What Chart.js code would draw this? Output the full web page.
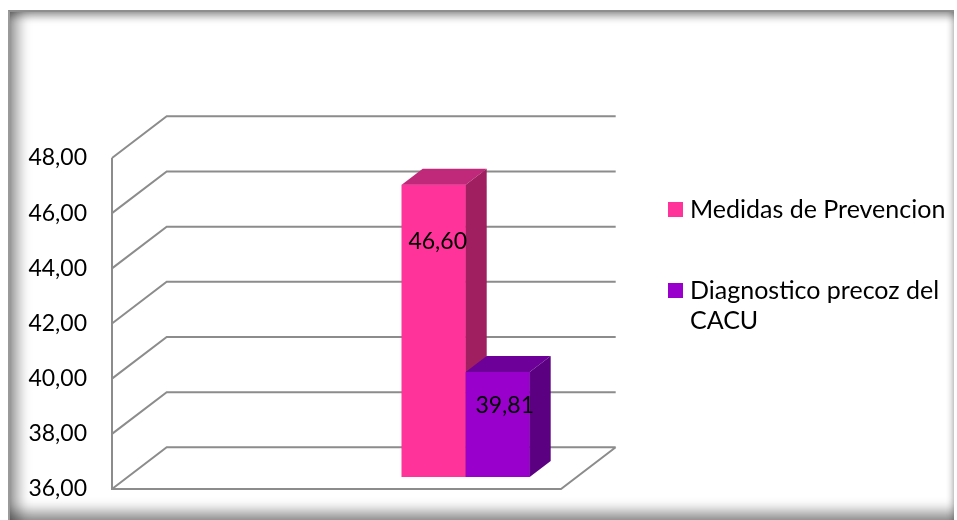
<!DOCTYPE html>
<html>
<head>
<meta charset="utf-8">
<script src="https://cdn.jsdelivr.net/npm/chart.js@4.4.0/dist/chart.umd.min.js"></script>
<style>
  html, body { margin: 0; padding: 0; background: #fff; }
  #wrap { position: relative; width: 957px; height: 520px; overflow: hidden; font-family: Lato, "Open Sans", sans-serif; }
  #frame {
    position: absolute; left: 8px; top: 10px; width: 946px; height: 512px; box-sizing: border-box;
    border-top: 2px solid #8e8e8e; border-left: 2px solid #9a9a9a;
    box-shadow:
      inset 16px 0 14px -8px rgba(0,0,0,0.40),
      inset 0 9px 8px -5px rgba(0,0,0,0.40),
      inset 0 -18px 14px -8px rgba(0,0,0,0.45),
      inset -6px 0 6px -4px rgba(0,0,0,0.20);
    background: #fff;
  }
  canvas { position: absolute; left: 0; top: 0; }
  .lg { position: absolute; left: 668px; width: 290px; font-size: 25px; line-height: 30px; color: #000; }
  .lg .sw { position: absolute; left: 0; top: 9px; width: 15px; height: 15px; }
  .lg .tx { margin-left: 22px; width: 262px; }
</style>
</head>
<body>
<div id="wrap">
  <div id="frame"></div>
  <canvas id="c" width="957" height="520"></canvas>
</div>
<script>
// Data
const categories = [''];
const seriesNames = ['Medidas de Prevencion', 'Diagnostico precoz del CACU'];
const seriesValues = [[46.60], [39.81]];
const yTicks = [36, 38, 40, 42, 44, 46, 48];

// Face colours: front, top, side
const seriesColors = [
  { front: '#FF3399', top: '#C0287A', side: '#A01F60' },
  { front: '#9900CC', top: '#6C0099', side: '#5A0080' }
];

// 3D box geometry (pixels)
const FLOOR_W = 449;      // width of the floor's front edge
const DEPTH_DX = 54.7;    // full depth offset of the walls
const DEPTH_DY = -41.7;
const BAR_Z0 = 0.287;     // depth at which bar fronts sit (fraction of full depth)
const BAR_Z = 0.384;      // bar depth (fraction of full depth)
const LABEL_OFF = [{ dx: 4, dy: 57 }, { dx: 7, dy: 34 }];

const fmt = v => v.toFixed(2).replace('.', ',');

const box3d = {
  id: 'box3d',
  beforeDatasetsDraw(chart) {
    const { ctx, chartArea } = chart;
    const y = chart.scales.y;
    const left = chartArea.left;
    const yTop = y.getPixelForValue(yTicks[yTicks.length - 1]);
    const yBot = y.getPixelForValue(yTicks[0]);
    ctx.save();
    ctx.strokeStyle = '#8c8c8c';
    ctx.lineWidth = 2;
    ctx.beginPath();
    yTicks.forEach(v => {
      const yf = y.getPixelForValue(v);
      ctx.moveTo(left, yf);
      ctx.lineTo(left + DEPTH_DX, yf + DEPTH_DY);
      ctx.lineTo(left + DEPTH_DX + FLOOR_W, yf + DEPTH_DY);
    });
    ctx.moveTo(left, yTop);
    ctx.lineTo(left, yBot);
    ctx.lineTo(left + FLOOR_W, yBot);
    ctx.lineTo(left + FLOOR_W + DEPTH_DX, yBot + DEPTH_DY);
    ctx.stroke();
    ctx.restore();
    // bars sit part-way into the box
    ctx.save();
    ctx.translate(DEPTH_DX * BAR_Z0, DEPTH_DY * BAR_Z0);
  },
  afterDatasetsDraw(chart) {
    const ctx = chart.ctx;
    const bdx = DEPTH_DX * BAR_Z, bdy = DEPTH_DY * BAR_Z;
    // series left to right: front, top and side of each box
    chart.data.datasets.forEach((ds, i) => {
      const col = seriesColors[i];
      chart.getDatasetMeta(i).data.forEach((bar, j) => {
        bar.draw(ctx);
        const { x, y, base, width } = bar.getProps(['x', 'y', 'base', 'width'], true);
        const l = x - width / 2, r = x + width / 2;
        ctx.fillStyle = col.top;
        ctx.beginPath();
        ctx.moveTo(l, y);
        ctx.lineTo(l + bdx, y + bdy);
        ctx.lineTo(r + bdx, y + bdy);
        ctx.lineTo(r, y);
        ctx.closePath();
        ctx.fill();
        ctx.fillStyle = col.side;
        ctx.beginPath();
        ctx.moveTo(r, y);
        ctx.lineTo(r + bdx, y + bdy);
        ctx.lineTo(r + bdx, base + bdy);
        ctx.lineTo(r, base);
        ctx.closePath();
        ctx.fill();
      });
    });
    // value labels
    chart.data.datasets.forEach((ds, i) => {
      chart.getDatasetMeta(i).data.forEach((bar, j) => {
        const { x, y } = bar.getProps(['x', 'y'], true);
        ctx.fillStyle = '#000';
        ctx.font = '23px Lato, "Open Sans", sans-serif';
        ctx.textAlign = 'center';
        ctx.textBaseline = 'middle';
        ctx.fillText(fmt(ds.data[j]), x + LABEL_OFF[i].dx, y + LABEL_OFF[i].dy);
      });
    });
    ctx.restore();
  }
};

new Chart(document.getElementById('c'), {
  type: 'bar',
  data: {
    labels: categories,
    datasets: seriesNames.map((name, i) => ({
      label: name,
      data: seriesValues[i],
      base: yTicks[0],
      backgroundColor: seriesColors[i].front,
      borderWidth: 0,
      clip: false,
      categoryPercentage: 0.1893,
      barPercentage: 1
    }))
  },
  options: {
    responsive: false,
    animation: false,
    events: [],
    layout: { padding: { left: 0, top: 158, right: 169, bottom: 31 } },
    plugins: { legend: { display: false }, tooltip: { enabled: false } },
    scales: {
      x: { type: 'category', display: false, offset: true },
      y: {
        min: yTicks[0],
        max: yTicks[yTicks.length - 1],
        afterBuildTicks: s => { s.ticks = yTicks.map(v => ({ value: v })); },
        afterFit: s => { s.width = 112; s.paddingTop = 14; s.paddingBottom = 14; },
        grid: { display: false, drawTicks: false },
        border: { display: false },
        ticks: {
          padding: 25,
          color: '#000',
          font: { family: 'Lato, "Open Sans", sans-serif', size: 23 },
          callback: v => fmt(v)
        }
      }
    }
  },
  plugins: [box3d]
});

// Legend
const legendTops = [193, 274];
seriesNames.forEach((name, i) => {
  const item = document.createElement('div');
  item.className = 'lg';
  item.style.top = legendTops[i] + 'px';
  const sw = document.createElement('div');
  sw.className = 'sw';
  sw.style.background = seriesColors[i].front;
  const tx = document.createElement('div');
  tx.className = 'tx';
  tx.textContent = name;
  item.appendChild(sw);
  item.appendChild(tx);
  document.getElementById('wrap').appendChild(item);
});
</script>
</body>
</html>
